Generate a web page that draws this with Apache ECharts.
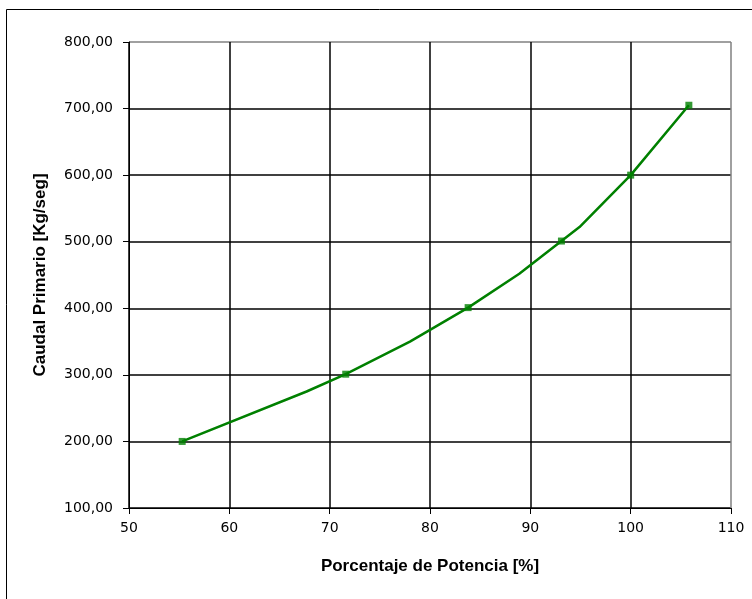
<!DOCTYPE html>
<html>
<head>
<meta charset="utf-8">
<script src="https://cdn.jsdelivr.net/npm/echarts@6/dist/echarts.min.js"></script>
<style>
  html, body { margin: 0; padding: 0; background: #fff; }
  #chart { width: 752px; height: 599px; }
</style>
</head>
<body>
<div id="chart"></div>
<script>
// Curve of primary flow versus power percentage
const curveX = [55.3, 67.7, 71.6, 78.0, 83.8, 88.9, 93.1, 94.9, 100.0, 105.8];
const curveY = [200, 275, 301, 350, 401, 452, 501, 522, 600, 705];

// Measured points shown with square markers
const pointX = [55.3, 71.6, 83.8, 93.1, 100.0, 105.8];
const pointY = [200, 301, 401, 501, 600, 705];

const xTicks = { min: 50, max: 110, step: 10 };
const yTicks = { min: 100, max: 800, step: 100 };

const xTitle = 'Porcentaje de Potencia [%]';
const yTitle = 'Caudal Primario [Kg/seg]';

const green = '#008000';
const labelFont = 'DejaVu Sans';
const titleFont = 'Liberation Sans';

function lineColors(min, max, step) {
  const out = [];
  for (let v = min; v <= max; v += step) out.push(v === max ? '#808080' : '#000000');
  return out;
}

const chart = echarts.init(document.getElementById('chart'), null, { renderer: 'canvas' });

chart.setOption({
  animation: false,
  backgroundColor: '#ffffff',
  graphic: [{
    type: 'rect',
    shape: { x: 6.5, y: 9.5, width: 800, height: 700 },
    style: { fill: 'none', stroke: '#000', lineWidth: 1 },
    z: -1
  }],
  grid: { left: 129, top: 42, right: 21, bottom: 91, containLabel: false },
  xAxis: {
    type: 'value',
    min: xTicks.min, max: xTicks.max, interval: xTicks.step,
    name: xTitle,
    nameLocation: 'middle',
    nameGap: 50,
    nameTextStyle: { fontFamily: titleFont, fontWeight: 'bold', fontSize: 17, color: '#000' },
    axisLine: { show: true, onZero: false, lineStyle: { color: '#000', width: 1 } },
    axisTick: { show: true, length: 6, lineStyle: { color: '#000' } },
    axisLabel: { margin: 13, fontFamily: labelFont, fontSize: 14, color: '#000' },
    splitLine: { show: true, lineStyle: { color: lineColors(xTicks.min, xTicks.max, xTicks.step), width: 1.5 } }
  },
  yAxis: {
    type: 'value',
    min: yTicks.min, max: yTicks.max, interval: yTicks.step,
    name: yTitle,
    nameLocation: 'middle',
    nameGap: 80,
    nameRotate: 90,
    nameTextStyle: { fontFamily: titleFont, fontWeight: 'bold', fontSize: 17, color: '#000' },
    axisLine: { show: true, onZero: false, lineStyle: { color: '#000', width: 1 } },
    axisTick: { show: true, length: 6, lineStyle: { color: '#000' } },
    axisLabel: {
      margin: 16, fontFamily: labelFont, fontSize: 14, color: '#000',
      formatter: v => v.toFixed(2).replace('.', ',')
    },
    splitLine: { show: true, lineStyle: { color: lineColors(yTicks.min, yTicks.max, yTicks.step), width: 1.5 } }
  },
  series: [
    {
      type: 'line',
      data: curveX.map((x, i) => [x, curveY[i]]),
      showSymbol: false,
      lineStyle: { color: green, width: 2.5 },
      z: 3
    },
    {
      type: 'scatter',
      data: pointX.map((x, i) => [x, pointY[i]]),
      symbol: 'rect',
      symbolSize: 7,
      itemStyle: { color: green },
      z: 4
    }
  ]
});
</script>
</body>
</html>
